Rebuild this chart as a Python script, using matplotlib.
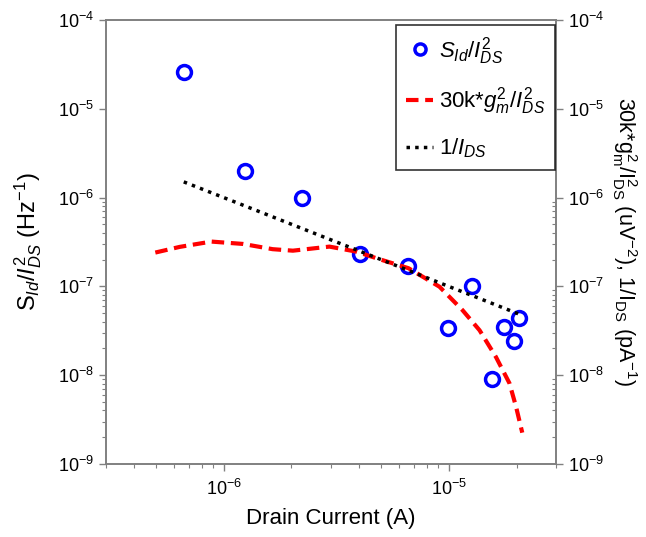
import matplotlib
matplotlib.use('Agg')
import matplotlib.pyplot as plt
from matplotlib.lines import Line2D
from matplotlib.ticker import FixedLocator, NullFormatter

plt.rcParams['font.family'] = ['Liberation Sans', 'DejaVu Sans']
plt.rcParams['mathtext.fontset'] = 'custom'
plt.rcParams['mathtext.rm'] = 'Liberation Sans'
plt.rcParams['mathtext.it'] = 'Liberation Sans:italic'
plt.rcParams['mathtext.bf'] = 'Liberation Sans:bold'
plt.rcParams['axes.unicode_minus'] = False

# measured noise (circles)
ids = [6.65e-7, 1.24e-6, 2.22e-6, 4.02e-6, 6.62e-6, 9.87e-6,
       1.27e-5, 1.55e-5, 1.75e-5, 1.94e-5, 2.06e-5]
s_norm = [2.6e-5, 2.0e-6, 9.9e-7, 2.32e-7, 1.70e-7, 3.4e-8,
          1.01e-7, 9.1e-9, 3.5e-8, 2.43e-8, 4.4e-8]

# 1/I_DS (pA^-1), read at the same currents
inv_ids = [1.50e-6, 8.06e-7, 4.50e-7, 2.49e-7, 1.51e-7, 1.01e-7,
           7.87e-8, 6.45e-8, 5.71e-8, 5.15e-8, 4.85e-8]

# 30k*gm^2/I^2 curve
gm_x = [4.97e-7, 6.38e-7, 8.82e-7, 1.22e-6, 1.65e-6, 2.03e-6, 2.95e-6,
        3.88e-6, 4.92e-6, 6.62e-6, 9.09e-6, 1.15e-5, 1.37e-5, 1.62e-5,
        1.86e-5, 1.99e-5, 2.12e-5]
gm_y = [2.40e-7, 2.78e-7, 3.19e-7, 3.0e-7, 2.62e-7, 2.52e-7, 2.80e-7,
        2.46e-7, 2.02e-7, 1.60e-7, 9.9e-8, 5.4e-8, 3.2e-8, 1.6e-8,
        8.1e-9, 4.4e-9, 2.25e-9]

xlim = (3e-7, 3e-5)
ylim = (1e-9, 1e-4)
minor_y = [k * 10.0**e for e in (-9, -8, -7) for k in range(2, 10)]
gray = '#808080'

fig = plt.figure(figsize=(6.46, 5.37), dpi=100)
ax = fig.add_axes([0.164, 0.136, 0.697, 0.827])
ax2 = ax.twinx()

ax.plot(ids, s_norm, 'o', ms=10, mfc='none', mec='#0000ff', mew=2.5, zorder=3)
ax2.plot(gm_x, gm_y, '--', color='#ff0000', lw=3, dashes=(3, 1.6))
ax2.plot(ids, inv_ids, ':', color='black', lw=2.5, dashes=(1, 1.5))

for a in (ax, ax2):
    a.set_xscale('log')
    a.set_yscale('log')
    a.set_xlim(*xlim)
    a.set_ylim(*ylim)
    a.yaxis.set_minor_locator(FixedLocator(minor_y))
    a.yaxis.set_minor_formatter(NullFormatter())
    a.xaxis.set_minor_formatter(NullFormatter())
    for s in a.spines.values():
        s.set_color(gray)
        s.set_linewidth(1.2)

ax.tick_params(which='both', direction='out', color=gray, labelsize=13, top=False)
ax.tick_params(which='major', length=5, width=1)
ax.tick_params(which='minor', length=3, width=0.8)
ax.tick_params(axis='x', which='major', pad=6)
ax2.tick_params(axis='y', which='major', direction='out', length=5, width=1,
                color=gray, labelsize=13)
ax2.tick_params(axis='y', which='minor', direction='in', length=3, width=0.8,
                color=gray)

ax.set_xlabel('Drain Current (A)', fontsize=16, labelpad=6)
ax.set_ylabel(r'$\mathregular{S}_{Id}/I^2_{DS}$ (Hz$^{-1}$)', fontsize=17, labelpad=10)
ax2.set_ylabel(r'30k*$\mathregular{g^2_m/I^2_{DS}}$ (uV$^{-2}$), 1/$\mathregular{I_{DS}}$ (pA$^{-1}$)',
               fontsize=15.5, rotation=270, labelpad=25)

handles = [
    Line2D([], [], ls='none', marker='o', ms=8, mfc='none', mec='#0000ff', mew=2.5),
    Line2D([], [], ls='--', color='#ff0000', lw=3, dashes=(3, 1.6)),
    Line2D([], [], ls=':', color='black', lw=2.5, dashes=(1, 1.5)),
]
labels = [r'$S_{Id}/I^2_{DS}$', r'30k*$g^2_m/I^2_{DS}$', r'1/$I_{DS}$']
leg = ax2.legend(handles, labels, loc='upper right', bbox_to_anchor=(0.998, 0.989),
                 fontsize=16, frameon=True, fancybox=False, edgecolor='black',
                 handlelength=1.25, handletextpad=0.25, borderpad=0.45,
                 labelspacing=0.85, borderaxespad=0)
leg.get_frame().set_linewidth(1.2)

fig.savefig('out.png', dpi=100)
